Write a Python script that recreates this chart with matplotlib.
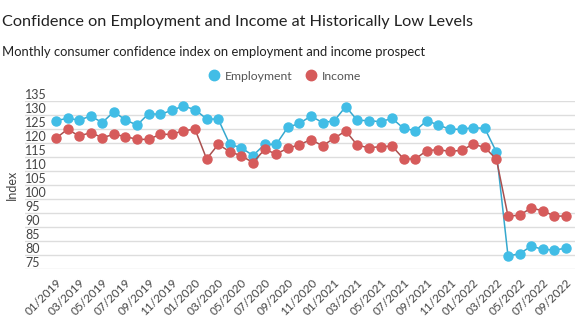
import matplotlib
matplotlib.use("Agg")
import matplotlib.pyplot as plt
from matplotlib.lines import Line2D
from matplotlib.transforms import ScaledTranslation

plt.rcParams['font.family'] = ['Lato', 'DejaVu Sans']

# monthly index values, 01/2019 .. 09/2022
months = [f"{m:02d}/{y}" for y in range(2019, 2023) for m in range(1, 13)][:45]
employment = [128.0, 128.8, 128.2, 129.6, 127.3, 131.2, 128.2, 126.4, 130.5, 130.2,
              131.7, 133.2, 131.9, 128.6, 128.5, 119.5, 118.3, 115.5, 119.5, 119.5,
              125.6, 127.0, 129.6, 127.3, 127.9, 133.0, 128.1, 128.0, 127.6, 128.8,
              125.2, 124.4, 128.0, 126.4, 124.9, 124.9, 125.5, 125.2, 116.8, 79.7,
              80.4, 83.2, 82.0, 81.8, 82.4]
income = [121.7, 124.9, 122.5, 123.7, 121.9, 123.1, 122.3, 121.3, 121.3, 123.1,
          123.1, 124.4, 124.9, 114.3, 119.5, 116.9, 115.4, 113.0, 117.7, 116.1,
          118.1, 119.4, 121.2, 119.0, 121.7, 124.3, 119.2, 118.3, 118.7, 118.9,
          114.3, 114.3, 117.3, 117.6, 117.0, 117.4, 119.6, 118.4, 114.2, 93.9,
          94.2, 96.8, 95.8, 93.9, 93.9]
y_ticks = list(range(75, 136, 5))

emp_color, emp_line = '#41BDE6', '#36A8CE'
inc_color, inc_line = '#D65B5B', '#A9504F'
text_color = '#444444'

fig = plt.figure(figsize=(5.75, 3.22), dpi=100)
ax = fig.add_axes([25 / 575, 53 / 322, 550 / 575, 168 / 322])

x = list(range(len(months)))
ax.plot(x, employment, color=emp_line, lw=1.1, marker='o', ms=6.5,
        mfc=emp_color, mec=emp_color, clip_on=False, zorder=3)
ax.plot(x, income, color=inc_line, lw=1.1, marker='o', ms=6.5,
        mfc=inc_color, mec=inc_color, clip_on=False, zorder=4)

ax.set_xlim(-2.67, 44.78)
ax.set_ylim(75, 135)
ax.set_yticks(y_ticks)
ax.grid(axis='y', color='#DDDDDD', lw=1)
ax.set_axisbelow(True)
for s in ax.spines.values():
    s.set_visible(False)

# y labels sit left-aligned just above their gridline
ax.tick_params(axis='y', length=0, pad=0, labelsize=9, labelcolor=text_color)
shift = ScaledTranslation(0, 7 / 100, fig.dpi_scale_trans)
for lab in ax.get_yticklabels():
    lab.set_horizontalalignment('left')
    lab.set_transform(lab.get_transform() + shift)

ax.set_xticks(x[::2])
ax.set_xticklabels(months[::2], rotation=45, ha='right', va='top',
                   rotation_mode='anchor')
ax.tick_params(axis='x', length=0, pad=6, labelsize=8.5, labelcolor=text_color)
ax.set_ylabel('Index', fontsize=9, color=text_color, labelpad=5)

fig.text(2 / 575, 1 - 22 / 322, 'Confidence on Employment and Income at Historically Low Levels',
         fontsize=11.7, color='#222222', va='center', ha='left')
fig.text(2 / 575, 1 - 52 / 322, 'Monthly consumer confidence index on employment and income prospect',
         fontsize=9.4, color='#222222', va='center', ha='left')

handles = [Line2D([], [], ls='', marker='o', ms=7.5, mfc=emp_color, mec=emp_color),
           Line2D([], [], ls='', marker='o', ms=7.5, mfc=inc_color, mec=inc_color)]
fig.legend(handles, ['Employment', 'Income'], ncol=2, frameon=False,
           loc='center', bbox_to_anchor=(284 / 575, 1 - 76 / 322),
           fontsize=8.8, labelcolor='#555555', handletextpad=0.3,
           columnspacing=0.9, handlelength=1.2)

fig.savefig('out.png', dpi=100)
